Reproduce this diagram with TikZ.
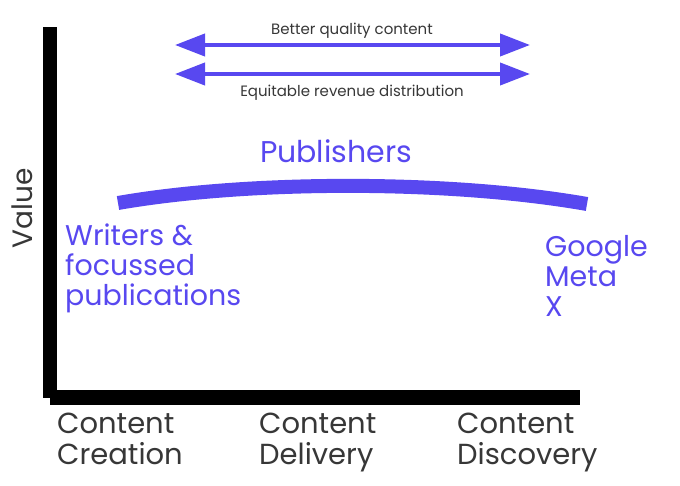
\documentclass[tikz,border=0pt]{standalone}
\usepackage{fontspec}
\setmainfont{Poppins}
\usetikzlibrary{arrows.meta}
\definecolor{pur}{RGB}{88,72,240}
\definecolor{txt}{RGB}{55,55,55}
\tikzset{
  biarrow/.style={pur, line width=4pt, {Triangle[length=30pt,width=22pt]}-{Triangle[length=30pt,width=22pt]}},
  small/.style={txt, font=\fontsize{15}{17}\selectfont, inner sep=0pt},
  big/.style={font=\fontsize{28.5}{30}\selectfont, inner sep=0pt, align=left},
  axislbl/.style={txt, font=\fontsize{29}{31}\selectfont, inner sep=0pt, align=left, anchor=north west},
  purlbl/.style={pur, big, anchor=north west}
}
\begin{document}
\begin{tikzpicture}[x=1pt,y=-1pt]
\useasboundingbox (0,0) rectangle (680,486);
\fill[white] (0,0) rectangle (680,486);
% axes
\fill[black] (43,27) rectangle (57,398);
\fill[black] (50,390) rectangle (580,405);
% arrows
\coordinate (a1l) at (175,45);
\coordinate (a1r) at (530,45);
\coordinate (a2l) at (175,74);
\coordinate (a2r) at (530,74);
\draw[biarrow] (a1l) -- (a1r);
\draw[biarrow] (a2l) -- (a2r);
\node[small] (t1) at (352,31) {Better quality content};
\node[small] (t2) at (352,93) {Equitable revenue distribution};
% publishers
\node[pur, font=\fontsize{30}{30}\selectfont, inner sep=0pt] (pub) at (336,151) {Publishers};
\coordinate (cl) at (118,203);
\coordinate (cr) at (587,204);
\draw[pur, line width=14pt] (cl) .. controls (250,180) and (450,180) .. (cr);
% labels
\node[purlbl] (wr) at (65,224) {Writers \&\\focussed\\publications};
\node[purlbl] (gm) at (545,235) {Google\\Meta\\X};
\node[txt, font=\fontsize{28}{28}\selectfont, inner sep=0pt, rotate=90] (val) at (22,208) {Value};
\node[axislbl] (c1) at (57,413) {Content\\Creation};
\node[axislbl] (c2) at (259,413) {Content\\Delivery};
\node[axislbl] (c3) at (457,413) {Content\\Discovery};
\end{tikzpicture}
\end{document}
